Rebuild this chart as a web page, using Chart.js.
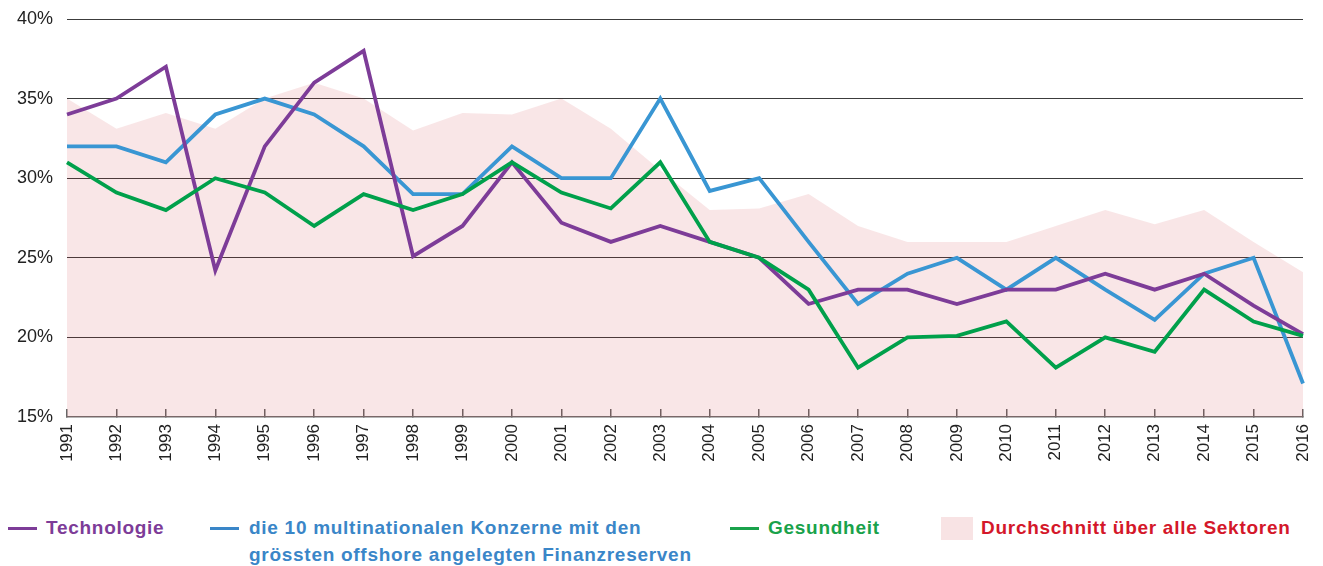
<!DOCTYPE html>
<html>
<head>
<meta charset="utf-8">
<script src="https://cdn.jsdelivr.net/npm/chart.js@4.4.1/dist/chart.umd.min.js"></script>
<style>
html,body{margin:0;padding:0;background:#fff;}
#wrap{position:absolute;left:0;top:0;width:1323px;height:470px;}
.leg{position:absolute;font-family:"Liberation Sans",Arial,sans-serif;font-weight:bold;font-size:19px;letter-spacing:0.72px;line-height:27px;white-space:nowrap;}
.mk{position:absolute;height:3px;width:29px;}
.sq{position:absolute;width:32px;height:23px;background:#f8e3e4;}
</style>
</head>
<body>
<div id="wrap"><canvas id="c" width="1323" height="470"></canvas></div>
<div class="mk" style="left:8px;top:527px;background:#7d3c98"></div>
<div class="leg" style="left:46px;top:514px;color:#7d3c98">Technologie</div>
<div class="mk" style="left:210px;top:527px;background:#3a86c8"></div>
<div class="leg" style="left:249px;top:514px;color:#3a86c8">die 10 multinationalen Konzerne mit den<br>grössten offshore angelegten Finanzreserven</div>
<div class="mk" style="left:730px;top:527px;background:#19a24b"></div>
<div class="leg" style="left:768px;top:514px;color:#19a24b">Gesundheit</div>
<div class="sq" style="left:941px;top:517px;"></div>
<div class="leg" style="left:981px;top:514px;color:#d4172a">Durchschnitt über alle Sektoren</div>
<script>
const years = ["1991","1992","1993","1994","1995","1996","1997","1998","1999","2000","2001","2002","2003","2004","2005","2006","2007","2008","2009","2010","2011","2012","2013","2014","2015","2016"];
const technologie = [34,35,37,24.2,32,36,38,25.1,27,31,27.2,26,27,26,25,22.1,23,23,22.1,23,23,24,23,24,22,20.2];
const offshoreTop10 = [32,32,31,34,35,34,32,29,29,32,30,30,35,29.2,30,26,22.1,24,25,23,25,23,21.1,24,25,17.1];
const gesundheit = [31,29.1,28,30,29.1,27,29,28,29,31,29.1,28.1,31,26,25,23,18.1,20,20.1,21,18.1,20,19.1,23,21,20.1];
const durchschnitt = [35,33.1,34.1,33.1,35,36,35,33,34.1,34,35,33.1,30.5,28,28.1,29,27,26,26,26,27,28,27.1,28,26,24.1];
const yTicks = [15,20,25,30,35,40];

const lineDs = (label, data, color) => ({
  label, data, borderColor: color, backgroundColor: color, borderWidth: 3.8,
  pointRadius: 0, tension: 0, fill: false, borderJoinStyle: 'miter', order: 1
});

new Chart(document.getElementById('c'), {
  type: 'line',
  data: {
    labels: years,
    datasets: [
      {label:'Durchschnitt über alle Sektoren', data: durchschnitt, borderWidth: 0, pointRadius: 0,
       backgroundColor: 'rgba(205,47,55,0.12)', borderColor: 'rgba(0,0,0,0)', fill: 'start', tension: 0, order: 5},
      lineDs('Gesundheit', gesundheit, '#00a04b'),
      lineDs('Technologie', technologie, '#7d3c98'),
      lineDs('die 10 multinationalen Konzerne', offshoreTop10, '#3996d3')
    ]
  },
  options: {
    responsive: false,
    animation: false,
    events: [],
    layout: { padding: { left: 0, right: 20, top: 19, bottom: 0 } },
    plugins: { legend: { display: false }, tooltip: { enabled: false } },
    scales: {
      x: {
        offset: false,
        grid: { display: true, drawOnChartArea: false, drawTicks: true, tickLength: -8, tickColor: '#666', lineWidth: 1.5 },
        border: { display: true, color: '#6f6f6f', width: 1.5 },
        ticks: { autoSkip: false, maxRotation: 90, minRotation: 90, padding: 15, color: '#222',
                 font: { family: '"Liberation Sans", Arial, sans-serif', size: 17 } },
        afterFit: s => { s.height = 53; s.paddingLeft = 0; s.paddingRight = 0; s.paddingTop = 0; s.paddingBottom = 0; }
      },
      y: {
        min: 15, max: 40,
        afterBuildTicks: s => { s.ticks = yTicks.map(v => ({ value: v })); },
        grid: { color: ctx => ctx.tick && ctx.tick.value === 15 ? 'rgba(0,0,0,0)' : '#3c3c3c', lineWidth: 1, drawTicks: false },
        border: { display: false },
        ticks: { padding: 14, color: '#222', callback: v => v + '%',
                 font: { family: '"Liberation Sans", Arial, sans-serif', size: 18 } },
        afterFit: s => { s.width = 67; s.paddingTop = 0; s.paddingBottom = 0; }
      }
    }
  }
});
</script>
</body>
</html>
